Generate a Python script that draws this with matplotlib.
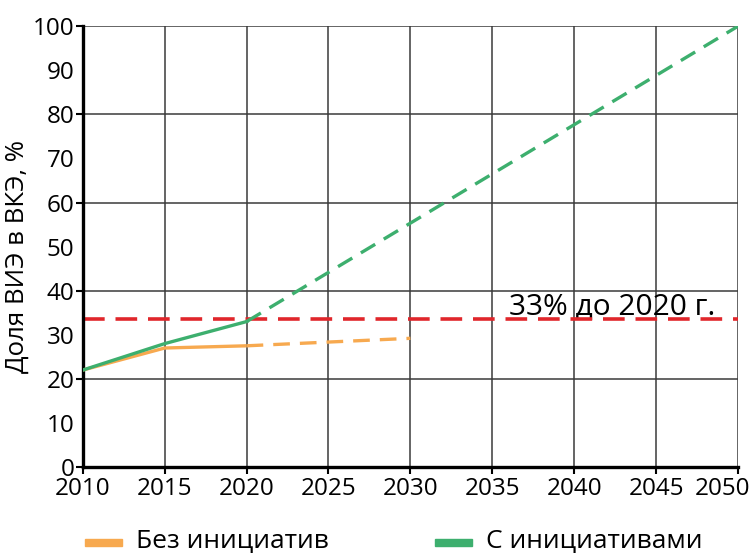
import matplotlib.pyplot as plt
from matplotlib.ticker import MultipleLocator, FormatStrFormatter, FixedFormatter

plt.rcParams['font.family'] = ['Open Sans', 'DejaVu Sans']

# Share of renewables, %
years_base = [2010, 2015, 2020]
no_init_base = [22, 27, 27.5]
no_init_proj_years = [2020, 2030]
no_init_proj = [27.5, 29.2]

with_init_base = [22, 28, 33]
with_init_proj_years = [2020, 2050]
with_init_proj = [33, 100]

target = 33.5
target_label = '33% до 2020 г.'

year_ticks = list(range(2010, 2051, 5))

orange = '#f7a94f'
green = '#3daf6e'
red = '#e0262b'

fig = plt.figure(figsize=(7.53, 5.53), dpi=100)
ax = fig.add_axes([0.110, 0.1555, 0.870, 0.797])

ax.plot(years_base, no_init_base, color=orange, lw=2.4, solid_capstyle='butt', zorder=3)
ax.plot(no_init_proj_years, no_init_proj, color=orange, lw=2.4, dashes=(5, 3), zorder=3)
ax.plot(years_base, with_init_base, color=green, lw=2.4, zorder=4)
ax.plot(with_init_proj_years, with_init_proj, color=green, lw=2.4, dashes=(5, 3), zorder=4)
ax.axhline(target, color=red, lw=2.6, dashes=(6, 3), zorder=2)
ax.text(2048.6, target - 0.7, target_label, ha='right', va='bottom', fontsize=21.5, zorder=1)

ax.set_xlim(2010, 2050)
ax.set_ylim(0, 100)
ax.set_xticks(year_ticks)
# last year label is drawn separately so it stays inside the figure
ax.xaxis.set_major_formatter(FixedFormatter([str(y) for y in year_ticks[:-1]] + ['']))
ax.annotate(str(year_ticks[-1]), xy=(year_ticks[-1], 0), xycoords='data',
            xytext=(9, -7), textcoords='offset points', ha='right', va='top',
            fontsize=17.5, annotation_clip=False)
ax.yaxis.set_major_locator(MultipleLocator(20))
ax.yaxis.set_minor_locator(MultipleLocator(10))
ax.yaxis.set_minor_formatter(FormatStrFormatter('%d'))
ax.grid(True, which='major', color='#3a3a3a', lw=1.1)
ax.set_axisbelow(True)

for side in ('top', 'right'):
    ax.spines[side].set_visible(False)
for side in ('left', 'bottom'):
    ax.spines[side].set_linewidth(2.4)

ax.tick_params(axis='x', direction='out', length=5, width=1.5, labelsize=17.5, pad=2)
ax.tick_params(axis='y', which='major', direction='out', length=5, width=1.5, labelsize=17.5, pad=1)
ax.tick_params(axis='y', which='minor', length=0, labelsize=17.5, pad=6)

ax.set_ylabel('Доля ВИЭ в ВКЭ, %', fontsize=18.5)
ax.yaxis.set_label_coords(-0.081, 0.477)

# legend
fig.patches.append(plt.Rectangle((85 / 753, 1 - 546 / 553), 37 / 753, 7 / 553,
                                 transform=fig.transFigure, color=orange))
fig.text(136 / 753, 1 - 541 / 553, 'Без инициатив', fontsize=19, va='center')
fig.patches.append(plt.Rectangle((435 / 753, 1 - 546 / 553), 37 / 753, 7 / 553,
                                 transform=fig.transFigure, color=green))
fig.text(486 / 753, 1 - 541 / 553, 'С инициативами', fontsize=19, va='center')

fig.savefig('out.png', dpi=100, facecolor='white')
